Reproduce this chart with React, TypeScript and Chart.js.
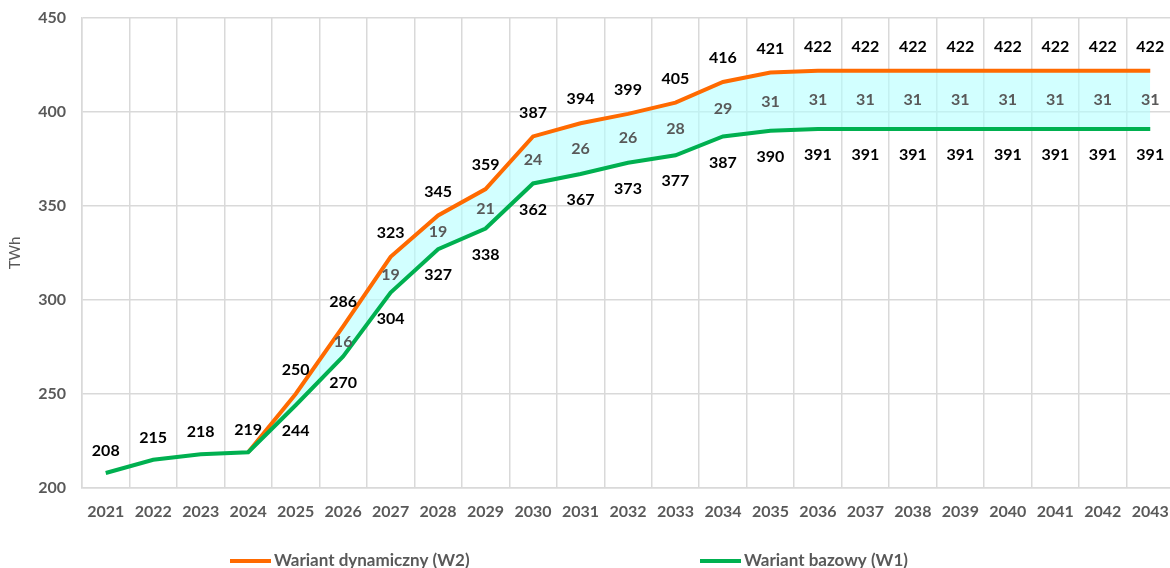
import React, { useEffect, useRef } from 'react';
import { Chart, registerables } from 'chart.js';

Chart.register(...registerables);

const years = ['2021','2022','2023','2024','2025','2026','2027','2028','2029','2030','2031','2032','2033','2034','2035','2036','2037','2038','2039','2040','2041','2042','2043'];
const w2Values = [null, null, null, 219, 250, 286, 323, 345, 359, 387, 394, 399, 405, 416, 421, 422, 422, 422, 422, 422, 422, 422, 422];
const w1Values = [208, 215, 218, 219, 244, 270, 304, 327, 338, 362, 367, 373, 377, 387, 390, 391, 391, 391, 391, 391, 391, 391, 391];
const diffValues = [null, null, null, null, null, 16, 19, 19, 21, 24, 26, 26, 28, 29, 31, 31, 31, 31, 31, 31, 31, 31, 31];
const seriesNames = ['Wariant dynamiczny (W2)', 'Wariant bazowy (W1)'];
const yMin = 200;
const yMax = 450;
const yStep = 50;

const ORANGE = '#FF6A00';
const GREEN = '#00B050';
const GRAY = '#595959';
const GRID = '#D9D9D9';
const FONT = 'Lato, "Open Sans", sans-serif';

const labelPlugin = {
  id: 'valueLabels',
  afterDatasetsDraw(chart: any) {
    const ctx = chart.ctx;
    const xs = chart.scales.x;
    const ys = chart.scales.y;
    ctx.save();
    ctx.textAlign = 'center';
    ctx.textBaseline = 'middle';
    years.forEach((_, i) => {
      const px = xs.getPixelForValue(i);
      ctx.font = `bold 16px ${FONT}`;
      ctx.fillStyle = '#000000';
      const a = w2Values[i];
      if (a != null && i >= 4) {
        ctx.fillText(String(a), px, ys.getPixelForValue(a) - 24);
      }
      const b = w1Values[i];
      if (b != null) {
        if (i < 4) ctx.fillText(String(b), px, ys.getPixelForValue(b) - 22);
        else ctx.fillText(String(b), px, ys.getPixelForValue(b) + 26);
      }
      const d = diffValues[i];
      if (d != null && a != null && b != null) {
        ctx.fillStyle = GRAY;
        ctx.fillText(String(d), px, (ys.getPixelForValue(a) + ys.getPixelForValue(b)) / 2);
      }
    });
    ctx.restore();
  },
};

const legendPlugin = {
  id: 'customLegend',
  afterDraw(chart: any) {
    const ctx = chart.ctx;
    const y = 561;
    const items = [
      { x: 230, color: ORANGE, text: seriesNames[0] },
      { x: 700, color: GREEN, text: seriesNames[1] },
    ];
    ctx.save();
    ctx.textBaseline = 'middle';
    ctx.textAlign = 'left';
    ctx.font = `bold 17px ${FONT}`;
    items.forEach((it) => {
      ctx.strokeStyle = it.color;
      ctx.lineWidth = 4;
      ctx.beginPath();
      ctx.moveTo(it.x, y);
      ctx.lineTo(it.x + 41, y);
      ctx.stroke();
      ctx.fillStyle = GRAY;
      ctx.fillText(it.text, it.x + 44, y);
    });
    ctx.restore();
  },
};

export default function App() {
  const ref = useRef<HTMLCanvasElement | null>(null);

  useEffect(() => {
    if (!ref.current) return;
    const chart = new Chart(ref.current, {
      type: 'line',
      data: {
        labels: years,
        datasets: [
          {
            label: seriesNames[0],
            data: w2Values as any,
            borderColor: ORANGE,
            backgroundColor: 'rgba(180,255,255,0.6)',
            borderWidth: 4,
            pointRadius: 0,
            tension: 0,
            fill: '+1',
            order: 1,
          },
          {
            label: seriesNames[1],
            data: w1Values,
            borderColor: GREEN,
            backgroundColor: GREEN,
            borderWidth: 4,
            pointRadius: 0,
            tension: 0,
            fill: false,
            order: 0,
          },
        ],
      },
      options: {
        responsive: false,
        animation: false,
        layout: { padding: { top: 18, right: 16, bottom: 0, left: 0 } },
        plugins: {
          legend: { display: false },
          tooltip: { enabled: false },
        },
        scales: {
          x: {
            offset: true,
            grid: { color: GRID, lineWidth: 1.5, offset: true, drawTicks: false },
            border: { color: GRID, width: 1.5 },
            ticks: { color: GRAY, padding: 14, font: { family: FONT, size: 16, weight: 'bold' }, maxRotation: 0, autoSkip: false },
            afterFit: (s: any) => { s.height = 92; },
          },
          y: {
            min: yMin,
            max: yMax,
            grid: { color: GRID, lineWidth: 1.5, drawTicks: false },
            border: { color: GRID, width: 1.5 },
            ticks: { stepSize: yStep, color: GRAY, padding: 16, font: { family: FONT, size: 16, weight: 'bold' } },
            title: { display: true, text: 'TWh', color: GRAY, font: { family: FONT, size: 15 }, padding: { top: 6, bottom: 4 } },
            afterFit: (s: any) => { s.width = 82; s.paddingTop = 0; s.paddingBottom = 0; },
          },
        },
      },
      plugins: [labelPlugin, legendPlugin],
    });
    return () => chart.destroy();
  }, []);

  return (
    <div style={{ position: 'fixed', left: 0, top: 0, width: 1170, height: 568, overflow: 'hidden', background: '#fff' }}>
      <canvas ref={ref} width={1190} height={580} style={{ display: 'block' }} />
    </div>
  );
}
